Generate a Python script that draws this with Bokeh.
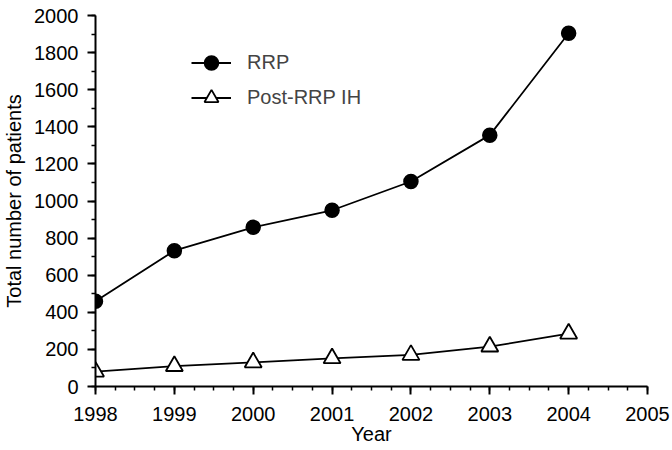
from bokeh.plotting import figure
from bokeh.models import FixedTicker, Legend, LegendItem, Range1d
from bokeh.embed import file_html
from bokeh.resources import INLINE

years = [1998, 1999, 2000, 2001, 2002, 2003, 2004]
rrp = [460, 732, 858, 950, 1105, 1355, 1904]
post_rrp_ih = [80, 110, 130, 152, 170, 215, 285]
x_ticks = [1998, 1999, 2000, 2001, 2002, 2003, 2004, 2005]
y_ticks = [0, 200, 400, 600, 800, 1000, 1200, 1400, 1600, 1800, 2000]
x_title = "Year"
y_title = "Total number of patients"

FONT = "Liberation Sans"
FS = "20px"

p = figure(width=672, height=450, output_backend="svg", toolbar_location=None,
           x_range=Range1d(1998, 2005), y_range=Range1d(0, 2000),
           min_border_left=94, min_border_right=25, min_border_top=15,
           min_border_bottom=64)
p.outline_line_color = None
p.xgrid.visible = False
p.ygrid.visible = False

minor_x = [1998 + i * 0.25 for i in range(29)]
minor_y = list(range(0, 2001, 100))
p.xaxis.ticker = FixedTicker(ticks=x_ticks, minor_ticks=minor_x)
p.yaxis.ticker = FixedTicker(ticks=y_ticks, minor_ticks=minor_y)

for ax in (p.xaxis[0], p.yaxis[0]):
    ax.axis_line_width = 2
    ax.axis_line_color = "black"
    ax.major_tick_line_width = 2
    ax.minor_tick_line_width = 1.5
    ax.major_tick_line_color = "black"
    ax.minor_tick_line_color = "black"
    ax.major_tick_out = 8
    ax.major_tick_in = 0
    ax.minor_tick_out = 4
    ax.minor_tick_in = 0
    ax.major_label_text_font = FONT
    ax.major_label_text_font_size = FS
    ax.major_label_text_color = "black"
    ax.axis_label_text_font = FONT
    ax.axis_label_text_font_size = FS
    ax.axis_label_text_font_style = "normal"
    ax.axis_label_text_color = "black"

p.xaxis.axis_label = x_title
p.yaxis.axis_label = y_title
p.xaxis.major_label_standoff = 12
p.xaxis.axis_label_standoff = -1
p.yaxis.major_label_standoff = 9
p.yaxis.axis_label_standoff = 6

l1 = p.line(years, rrp, line_color="black", line_width=1.8)
c1 = p.scatter(years, rrp, marker="circle", size=14, fill_color="black",
               line_color="black", line_width=1.5)
l2 = p.line(years, post_rrp_ih, line_color="black", line_width=1.8)
c2 = p.scatter(years, post_rrp_ih, marker="triangle", size=17, fill_color="white",
               line_color="black", line_width=1.8)

legend = Legend(items=[LegendItem(label="RRP", renderers=[l1, c1]),
                       LegendItem(label="Post-RRP IH", renderers=[l2, c2])],
                location=(96, 271), glyph_width=40, glyph_height=35,
                label_standoff=16, padding=0, margin=0, spacing=0,
                border_line_alpha=0, background_fill_alpha=0,
                label_text_font=FONT, label_text_font_size=FS)
p.add_layout(legend, "center")

open("out.html", "w").write(file_html(p, INLINE))
